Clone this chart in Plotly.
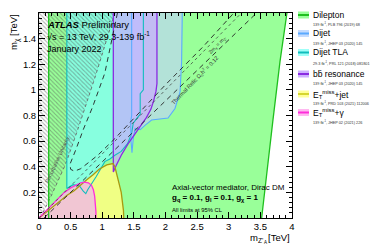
import plotly.graph_objects as go

# ---------------- data (TeV) ----------------
dilepton_left = 0.153
dilepton_right_x = [3.52, 3.61, 3.70, 3.81, 3.92]
dilepton_right_y = [0.00, 0.40, 0.77, 1.22, 1.60]

tla_x = [0.44, 0.44, 0.54, 0.64, 0.70, 0.74, 0.77, 0.84, 0.90, 0.96, 1.04, 1.12, 1.20, 1.30,
         1.40, 1.465, 1.49, 1.55, 1.60, 1.60, 1.65, 1.65]
tla_y = [1.60, 0.23, 0.26, 0.25, 0.21, 0.19, 0.22, 0.27, 0.32, 0.37, 0.44, 0.46, 0.49, 0.52,
         0.58, 0.66, 0.74, 0.78, 0.81, 0.97, 1.00, 1.60]

dijet_x = [1.465, 1.465, 1.45, 1.455, 1.47, 1.49, 1.52, 1.60, 1.68, 1.78, 2.04, 2.15, 2.23, 2.255, 2.265]
dijet_y = [1.60, 0.80, 0.75, 0.60, 0.51, 0.62, 0.70, 0.69, 0.725, 0.765, 0.78, 0.855, 0.985, 1.22, 1.60]

bb_x = [1.175, 1.175, 1.22, 1.30, 1.41, 1.545, 1.70, 1.77, 1.81, 1.85, 1.865, 1.865]
bb_y = [1.60, 0.36, 0.41, 0.49, 0.58, 0.675, 0.785, 0.85, 0.91, 0.99, 1.05, 1.60]

etjet_x = [0.0, 0.15, 0.30, 0.45, 0.55, 0.65, 0.76, 0.86, 0.95, 1.07, 1.17, 1.20, 1.23, 1.27,
           1.30, 1.32, 1.335, 1.34]
etjet_y = [0.0, 0.06, 0.12, 0.18, 0.21, 0.255, 0.30, 0.34, 0.38, 0.415, 0.425, 0.40, 0.33, 0.26,
           0.20, 0.13, 0.06, 0.0]

etgam_x = [0.0, 0.10, 0.20, 0.30, 0.40, 0.50, 0.60, 0.66, 0.72, 0.78, 0.83, 0.86, 0.88, 0.895, 0.90, 0.90]
etgam_y = [0.0, 0.05, 0.10, 0.15, 0.20, 0.235, 0.26, 0.275, 0.28, 0.275, 0.255, 0.22, 0.17, 0.11, 0.05, 0.0]

unit_x = [0.02, 0.20, 0.42, 0.62, 0.90, 1.20]
unit_y = [0.00, 0.18, 0.42, 0.70, 1.12, 1.60]

relic_up_x = [1.24, 1.04, 0.85, 0.70, 0.58, 0.49, 0.50, 0.56, 0.66, 0.80, 0.93, 1.20, 1.60, 2.00, 2.60, 3.08]
relic_up_y = [1.60, 1.13, 0.87, 0.69, 0.53, 0.42, 0.38, 0.365, 0.385, 0.44, 0.49, 0.62, 0.83, 1.04, 1.34, 1.60]

relic_low_x = [0.08, 3.44]
relic_low_y = [0.00, 1.60]

diag_x = [0.0, 3.2]
diag_y = [0.0, 1.6]

x_ticks = [0, 0.5, 1, 1.5, 2, 2.5, 3, 3.5, 4]
x_tick_text = ["0", "0.5", "1", "1.5", "2", "2.5", "3", "3.5", "4"]
y_ticks = [0.2, 0.4, 0.6, 0.8, 1.0, 1.2, 1.4, 1.6]
y_tick_text = ["0.2", "0.4", "0.6", "0.8", "1", "1.2", "1.4", "1.6"]

legend_names = ["Dilepton", "Dijet", "Dijet TLA", "bb\u0304 resonance",
                "E<sub>T</sub><sup>miss</sup>+jet", "E<sub>T</sub><sup>miss</sup>+\u03b3"]
legend_refs = ["139 fb<sup>-1</sup>, PLB 796 (2019) 68",
               "139 fb<sup>-1</sup>, JHEP 03 (2020) 145",
               "29.3 fb<sup>-1</sup>, PRL 121 (2018) 081801",
               "139 fb<sup>-1</sup>, JHEP 03 (2020) 145",
               "139 fb<sup>-1</sup>, PRD 103 (2021) 112006",
               "139 fb<sup>-1</sup>, JHEP 02 (2021) 226"]

# ---------------- style ----------------
FONT = "Liberation Sans, Arial, sans-serif"
C_GREEN, F_GREEN = "#1FBF1F", "#99FF99"
C_TEAL, F_TEAL = "#11BDBD", "rgba(128,255,250,0.72)"
C_BLUE, F_BLUE = "#5AAAFF", "rgba(196,208,255,0.62)"
C_PURP, F_PURP = "#8A2BE2", "rgba(200,170,255,0.68)"
C_OLIVE, F_YEL = "#A89A10", "rgba(255,255,128,0.85)"
C_MAG, F_PINK = "#FF2EDB", "rgba(240,190,222,0.88)"

# screen geometry (page body has an 8px margin)
OFF = 8
W, H = 390, 249
PX0, PX1, PY0, PY1 = 39, 292, 13, 218   # plot area on screen
PW, PH = PX1 - PX0, PY1 - PY0
L, T = PX0 - OFF, PY0 - OFF
R, B = W - L - PW, H - T - PH


def px_x(p):
    return (p - PX0) / PW


def px_y(p):
    return (PY1 - p) / PH


fig = go.Figure()


def fill(x, y, color):
    fig.add_trace(go.Scatter(x=x, y=y, mode="lines", fill="toself", fillcolor=color,
                             line=dict(width=0), hoverinfo="skip", showlegend=False))


def line(x, y, color, width=1.0, dash="solid"):
    fig.add_trace(go.Scatter(x=x, y=y, mode="lines", line=dict(color=color, width=width, dash=dash),
                             hoverinfo="skip", showlegend=False))


# fills
dl_x = [dilepton_left, dilepton_left] + dilepton_right_x[::-1]
dl_y = [0.0, 1.6] + dilepton_right_y[::-1]
fill(dl_x, dl_y, F_GREEN)
fill(tla_x, tla_y, F_TEAL)
fill(dijet_x, dijet_y, F_BLUE)
fill(bb_x, bb_y, F_PURP)
fill(etjet_x + [0.0], etjet_y + [0.0], F_YEL)
fill(etgam_x + [0.0], etgam_y + [0.0], F_PINK)

# hatched perturbative unitarity region
fig.add_trace(go.Scatter(x=[0.0] + unit_x + [0.0], y=[0.0] + unit_y + [1.6], mode="lines",
                         fill="toself", fillcolor="rgba(0,0,0,0)",
                         fillpattern=dict(shape="\\", fgcolor="rgba(85,85,85,0.9)",
                                          bgcolor="rgba(0,0,0,0)", size=3, solidity=0.35),
                         line=dict(width=0), hoverinfo="skip", showlegend=False))
line(unit_x, unit_y, "#666666", 0.9, "dot")

# boundaries
line([dilepton_left, dilepton_left], [0.0, 1.6], C_GREEN, 1.3)
line(dilepton_right_x, dilepton_right_y, C_GREEN, 1.3)
line(tla_x, tla_y, C_TEAL, 1.1)
line(dijet_x, dijet_y, C_BLUE, 1.1)
line(bb_x, bb_y, C_PURP, 1.3)
line(etjet_x, etjet_y, C_OLIVE, 1.3)
line(etgam_x, etgam_y, C_MAG, 1.3)

# relic / diagonal lines
line(relic_up_x, relic_up_y, "#222222", 0.9, "5px,4px")
line(relic_low_x, relic_low_y, "#222222", 0.9, "5px,4px")
line(diag_x, diag_y, "#333333", 0.7, "dot")

ann = []


def text(px, py, s, size, color="black", xanchor="left", yanchor="middle", angle=0):
    ann.append(dict(x=px_x(px), y=px_y(py), xref="paper", yref="paper", text=s, showarrow=False,
                    xanchor=xanchor, yanchor=yanchor, textangle=angle,
                    font=dict(family=FONT, size=size, color=color)))


text(45, 24, "<b><i>ATLAS</i></b> Preliminary", 9.5)
text(45, 36, "\u221as = 13 TeV, 29.3-139 fb<sup>-1</sup>", 9)
text(45, 48.5, "January 2022", 9)

text(170, 187, "Axial-vector mediator, Dirac DM", 8)
text(170, 198, "<b>g<sub>q</sub> = 0.1, g<sub>l</sub> = 0.1, g<sub>\u03c7</sub> = 1</b>", 8)
text(170, 209.5, "All limits at 95% CL", 5.8)

text(57, 160, "Perturbative Unitarity", 5.4, "#555555", "center", "middle", -65)
text(217, 45, "2m<sub>\u03c7</sub> = m<sub>Z'</sub>", 5.2, "#333333", "center", "middle", -45)
text(195, 81, "Thermal Relic \u03a9<sub>c</sub>h<sup>2</sup> = 0.12", 5.6, "#333333", "center", "middle", -46)

# axis titles
text(14, 12, "m<sub>\u03c7</sub> [TeV]", 9.5, "black", "center", "top", -90)
text(248, 237, "m", 9.5)
text(256, 240, "Z'", 6.5)
text(261.5, 242.5, "A", 4.5)
text(292, 237, "[TeV]", 9.5, "black", "right", "middle")

# legend
sw_fill = [F_GREEN, "#C4DCFF", "#9FFFF8", "#CDB0FF", "#FFFF99", "#FFB8F0"]
sw_line = [C_GREEN, C_BLUE, C_TEAL, C_PURP, "#D6D630", C_MAG]
leg_y = [15, 33.5, 52.5, 74, 94, 112.5]
ref_y = [24.3, 43.3, 62.7, 83.3, 102.7, 121.7]
shapes = []
for i in range(6):
    yc = leg_y[i]
    shapes.append(dict(type="rect", xref="paper", yref="paper", x0=px_x(298), x1=px_x(309),
                       y0=px_y(yc + 3.5), y1=px_y(yc - 3.5), fillcolor=sw_fill[i], line=dict(width=0)))
    shapes.append(dict(type="line", xref="paper", yref="paper", x0=px_x(298), x1=px_x(309),
                       y0=px_y(yc), y1=px_y(yc), line=dict(color=sw_line[i], width=2)))
    text(311, yc, legend_names[i], 8.5)
    text(311, ref_y[i], legend_refs[i], 3.8, "#333333")

fig.update_layout(
    width=W, height=H, margin=dict(l=L, r=R, t=T, b=B),
    plot_bgcolor="white", paper_bgcolor="white",
    annotations=ann, shapes=shapes, showlegend=False,
    xaxis=dict(range=[0, 4], tickmode="array", tickvals=x_ticks, ticktext=x_tick_text,
               ticks="inside", ticklen=6, tickwidth=1, tickcolor="black",
               minor=dict(tickmode="linear", tick0=0, dtick=0.1, ticks="inside", ticklen=3,
                          tickcolor="black", showgrid=False),
               showline=True, linecolor="black", linewidth=1, mirror="allticks",
               showgrid=False, zeroline=False,
               tickfont=dict(family=FONT, size=9.5, color="black")),
    yaxis=dict(range=[0, 1.6], tickmode="array", tickvals=y_ticks, ticktext=y_tick_text,
               ticks="inside", ticklen=6, tickwidth=1, tickcolor="black",
               minor=dict(tickmode="linear", tick0=0, dtick=0.04, ticks="inside", ticklen=3,
                          tickcolor="black", showgrid=False),
               showline=True, linecolor="black", linewidth=1, mirror="allticks",
               showgrid=False, zeroline=False,
               tickfont=dict(family=FONT, size=9.5, color="black")),
)

fig.write_html("out.html")
